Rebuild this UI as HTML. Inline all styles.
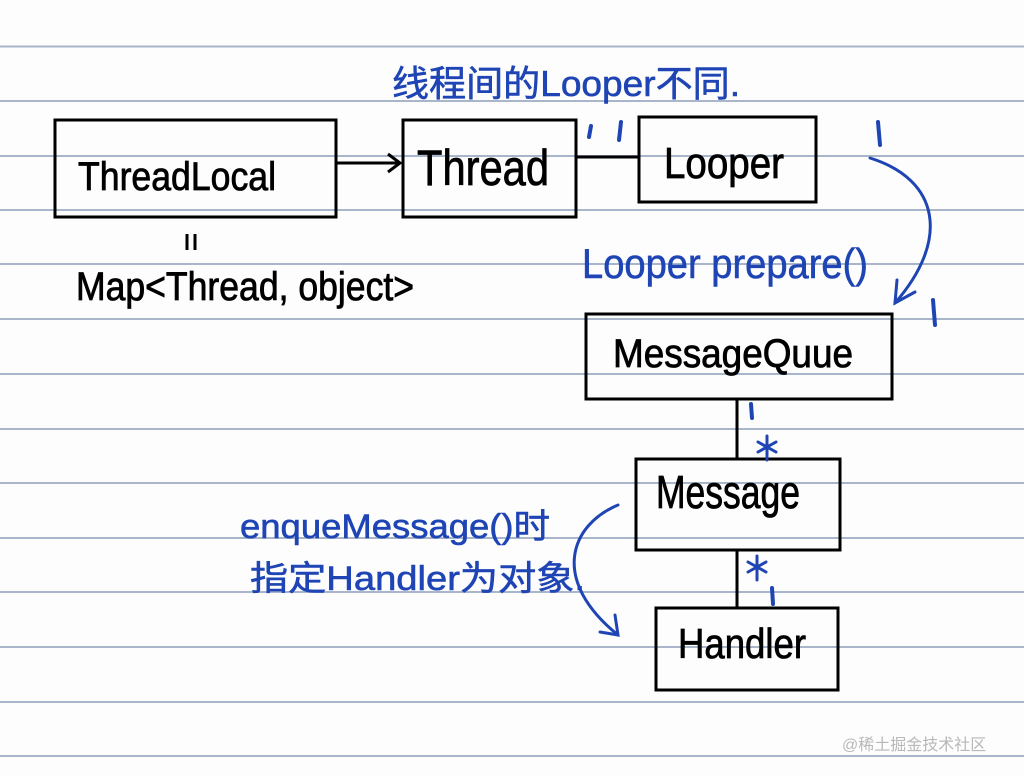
<!DOCTYPE html>
<html><head><meta charset="utf-8"><style>
html,body{margin:0;padding:0;background:#fdfdfd;}
svg{display:block}
.h{font-family:"Liberation Sans Narrow","Liberation Sans",sans-serif;fill:#000;stroke:#000;stroke-width:0.8;}
.b{font-family:"Liberation Sans Narrow","Liberation Sans","Noto Sans CJK SC",sans-serif;fill:#1f45b5;stroke:#1f45b5;stroke-width:0.6;}
</style></head><body>
<svg width="1024" height="776" viewBox="0 0 1024 776" xmlns="http://www.w3.org/2000/svg">
<rect width="1024" height="776" fill="#fdfdfd"/>
<g stroke="#a8b5ca" stroke-width="2">
<line x1="0" y1="46.5" x2="1024" y2="46.5"/><line x1="0" y1="101" x2="1024" y2="101"/>
<line x1="0" y1="156" x2="1024" y2="156"/><line x1="0" y1="210" x2="1024" y2="210"/>
<line x1="0" y1="264" x2="1024" y2="264"/><line x1="0" y1="319" x2="1024" y2="319"/>
<line x1="0" y1="374" x2="1024" y2="374"/><line x1="0" y1="429" x2="1024" y2="429"/>
<line x1="0" y1="483" x2="1024" y2="483"/><line x1="0" y1="538" x2="1024" y2="538"/>
<line x1="0" y1="592" x2="1024" y2="592"/><line x1="0" y1="647" x2="1024" y2="647"/>
<line x1="0" y1="702" x2="1024" y2="702"/><line x1="0" y1="756" x2="1024" y2="756"/>
</g>
<g fill="none" stroke="#000" stroke-width="3">
<rect x="55" y="120" width="281" height="97"/>
<rect x="403" y="120" width="173" height="97"/>
<rect x="639" y="117" width="177" height="85"/>
<rect x="586" y="314" width="306" height="85"/>
<rect x="636" y="459" width="204" height="91"/>
<rect x="656" y="608" width="182" height="82"/>
<line x1="336" y1="163" x2="400" y2="163"/>
<polyline points="388,154 400,163 388,172"/>
<line x1="576" y1="157" x2="639" y2="157"/>
<line x1="737" y1="399" x2="737" y2="459"/>
<line x1="737" y1="550" x2="737" y2="608"/>
<line x1="187" y1="234" x2="187" y2="250"/><line x1="195" y1="234" x2="195" y2="250"/>
</g>
<text class="h" x="78" y="190" font-size="40" textLength="198" lengthAdjust="spacingAndGlyphs">ThreadLocal</text>
<text class="h" x="417" y="185" font-size="50" textLength="132" lengthAdjust="spacingAndGlyphs">Thread</text>
<text class="h" x="664" y="178" font-size="44" textLength="120" lengthAdjust="spacingAndGlyphs">Looper</text>
<text class="h" x="613" y="367" font-size="40" textLength="240" lengthAdjust="spacingAndGlyphs">MessageQuue</text>
<text class="h" x="656" y="508" font-size="46" textLength="144" lengthAdjust="spacingAndGlyphs">Message</text>
<text class="h" x="678" y="658" font-size="42" textLength="128" lengthAdjust="spacingAndGlyphs">Handler</text>
<text class="h" x="76" y="300" font-size="40" textLength="338" lengthAdjust="spacingAndGlyphs">Map&lt;Thread, object&gt;</text>
<text class="b" x="392" y="96" font-size="36" textLength="348" lengthAdjust="spacingAndGlyphs">线程间的Looper不同.</text>
<text class="b" x="582" y="278" font-size="42" textLength="286" lengthAdjust="spacingAndGlyphs">Looper prepare()</text>
<text class="b" x="240" y="538" font-size="34" textLength="310" lengthAdjust="spacingAndGlyphs">enqueMessage()时</text>
<text class="b" x="250" y="590" font-size="34" textLength="335" lengthAdjust="spacingAndGlyphs">指定Handler为对象.</text>
<g fill="none" stroke="#1f45b5" stroke-width="4" stroke-linecap="round">
<line x1="591" y1="126" x2="589" y2="137"/><line x1="621" y1="122" x2="619" y2="140"/>
<line x1="878" y1="122" x2="880" y2="145"/><line x1="933" y1="300" x2="935" y2="325"/>
<line x1="751" y1="404" x2="752" y2="418"/>
<line x1="772" y1="588" x2="773" y2="604"/>
</g>
<g fill="none" stroke="#1f45b5" stroke-width="3" stroke-linecap="round">
<path d="M870 158 C 940 180, 950 240, 895 303"/>
<polyline points="897,280 895,303 915,292"/>
<path d="M618 505 C 570 525, 550 580, 618 635"/>
<polyline points="600,632 618,635 615,615"/>
<path d="M758 442 L776 452 M776 442 L758 452 M767 436 L767 460"/>
<path d="M748 562 L766 572 M766 562 L748 572 M757 556 L757 580"/>
</g>
<text x="842" y="750" font-family="Liberation Sans,'Noto Sans CJK SC',sans-serif" font-size="16" fill="#b8b8b8">@稀土掘金技术社区</text>
</svg>
</body></html>
